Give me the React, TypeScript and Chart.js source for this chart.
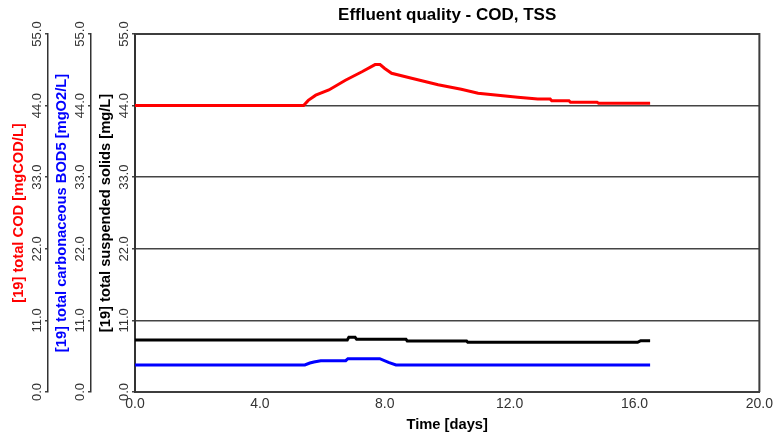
import React, { useEffect, useRef } from "react";
import { Chart, registerables } from "chart.js";

Chart.register(...registerables);

// ---- data ----
const codDays = [0, 5.4, 5.55, 5.79, 6.21, 6.74, 7.27, 7.69, 7.85, 8.0, 8.22, 8.86, 9.71, 10.45, 10.99, 12.26, 12.9, 13.3, 13.35, 13.9, 13.95, 14.8, 14.85, 16.5];
const codValues = [44.0, 44.0, 44.8, 45.6, 46.4, 47.9, 49.2, 50.3, 50.3, 49.7, 48.96, 48.2, 47.2, 46.5, 45.9, 45.27, 45.0, 45.0, 44.75, 44.75, 44.5, 44.5, 44.35, 44.35];

const bodDays = [0, 5.44, 5.6, 5.73, 5.95, 6.75, 6.82, 7.84, 8.12, 8.36, 16.5];
const bodValues = [4.15, 4.15, 4.45, 4.61, 4.81, 4.81, 5.12, 5.12, 4.56, 4.15, 4.15];

const tssDays = [0, 6.8, 6.85, 7.05, 7.1, 8.68, 8.72, 10.62, 10.66, 16.1, 16.2, 16.5];
const tssValues = [8.0, 8.0, 8.4, 8.4, 8.09, 8.09, 7.84, 7.84, 7.63, 7.63, 7.89, 7.89];

const xMin = 0;
const xMax = 20;
const xStep = 4;
const yMin = 0;
const yMax = 55;
const yStep = 11;

const chartTitle = "Effluent quality - COD, TSS";
const xTitle = "Time [days]";
const codTitle = "[19] total COD [mgCOD/L]";
const bodTitle = "[19] total carbonaceous BOD5 [mgO2/L]";
const tssTitle = "[19] total suspended solids [mg/L]";

const FONT = "'Liberation Sans', Arial, sans-serif";

function pts(xs: number[], ys: number[]) {
  return xs.map((x, i) => ({ x, y: ys[i] }));
}

export default function App() {
  const ref = useRef<HTMLCanvasElement>(null);

  useEffect(() => {
    if (!ref.current) return;

    const frame = {
      id: "frame",
      afterDatasetsDraw(chart: any) {
        const { ctx, chartArea: a } = chart;
        ctx.save();
        ctx.strokeStyle = "#3d3d3d";
        ctx.lineWidth = 2;
        ctx.beginPath();
        ctx.moveTo(a.left, a.top);
        ctx.lineTo(a.right, a.top);
        ctx.lineTo(a.right, a.bottom);
        ctx.stroke();
        ctx.restore();
      },
    };

    const yAxis = (
      title: string,
      color: string,
      width: number,
      weight: number,
      titlePad: number,
      main: boolean
    ) => ({
      type: "linear",
      position: "left",
      min: yMin,
      max: yMax,
      weight,
      ticks: {
        stepSize: yStep,
        autoSkip: false,
        minRotation: 90,
        maxRotation: 90,
        crossAlign: "center",
        padding: -5,
        color: "#333",
        font: { family: FONT, size: 13 },
        callback: (v: any) => Number(v).toFixed(1),
      },
      grid: {
        drawOnChartArea: main,
        drawTicks: true,
        tickLength: 3,
        color: "#444",
        lineWidth: 1.5,
      },
      border: { display: true, color: "#333", width: main ? 2 : 1.5 },
      title: {
        display: true,
        text: title,
        color,
        font: { family: FONT, size: 14.7, weight: "bold" },
        padding: { top: titlePad, bottom: 0 },
      },
      afterFit: (s: any) => {
        s.width = width;
      },
    });

    const chart = new Chart(ref.current, {
      type: "line",
      data: {
        datasets: [
          {
            label: codTitle,
            data: pts(codDays, codValues),
            yAxisID: "yCod",
            borderColor: "#ff0000",
            backgroundColor: "#ff0000",
            borderWidth: 3,
            pointRadius: 0,
            fill: false,
            tension: 0,
          },
          {
            label: bodTitle,
            data: pts(bodDays, bodValues),
            yAxisID: "yBod",
            borderColor: "#0000ff",
            backgroundColor: "#0000ff",
            borderWidth: 3,
            pointRadius: 0,
            fill: false,
            tension: 0,
          },
          {
            label: tssTitle,
            data: pts(tssDays, tssValues),
            yAxisID: "yTss",
            borderColor: "#000000",
            backgroundColor: "#000000",
            borderWidth: 3,
            pointRadius: 0,
            fill: false,
            tension: 0,
          },
        ],
      },
      options: {
        animation: false,
        responsive: false,
        maintainAspectRatio: false,
        devicePixelRatio: 1,
        layout: { padding: { left: 4, right: 14, top: 0, bottom: 0 } },
        plugins: {
          legend: { display: false },
          tooltip: { enabled: false },
          title: {
            display: true,
            text: chartTitle,
            color: "#000",
            fullSize: false,
            font: { family: FONT, size: 17, weight: "bold" },
            padding: { top: 5.6, bottom: 8 },
          },
        },
        scales: {
          x: {
            type: "linear",
            position: "bottom",
            min: xMin,
            max: xMax,
            ticks: {
              stepSize: xStep,
              color: "#333",
              maxRotation: 0,
              padding: 4,
              font: { family: FONT, size: 14 },
              callback: (v: any) => Number(v).toFixed(1),
            },
            grid: { display: false, drawTicks: false },
            border: { display: true, color: "#3d3d3d", width: 2 },
            title: {
              display: true,
              text: xTitle,
              color: "#000",
              font: { family: FONT, size: 14.7, weight: "bold" },
              padding: { top: 0, bottom: 0 },
            },
            afterFit: (s: any) => {
              s.height = 42;
            },
          },
          yCod: yAxis(codTitle, "#ff0000", 44, 3, 6.2, false),
          yBod: yAxis(bodTitle, "#0000ff", 43, 2, 5.2, false),
          yTss: yAxis(tssTitle, "#000000", 44, 1, 6.2, true),
        } as any,
      },
      plugins: [frame],
    } as any);

    return () => chart.destroy();
  }, []);

  return (
    <div style={{ position: "absolute", left: 0, top: 0, width: 777, height: 434 }}>
      <canvas
        ref={ref}
        width={777}
        height={434}
        style={{ display: "block", width: 777, height: 434 }}
      />
    </div>
  );
}
